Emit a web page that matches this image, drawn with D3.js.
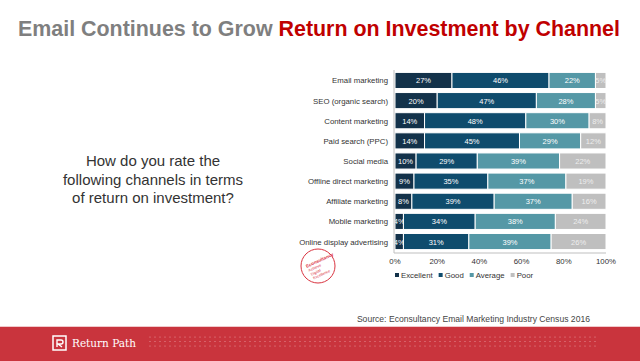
<!DOCTYPE html>
<html>
<head>
<meta charset="utf-8">
<script src="https://cdn.jsdelivr.net/npm/d3@7"></script>
<style>
  body { margin: 0; background: #fff; }
  svg { display: block; font-family: Arial, "Liberation Sans", sans-serif; }
</style>
</head>
<body>
<div id="chart"></div>
<script>
const categories = ["Email marketing", "SEO (organic search)", "Content marketing", "Paid search (PPC)",
  "Social media", "Offline direct marketing", "Affiliate marketing", "Mobile marketing", "Online display advertising"];
const seriesNames = ["Excellent", "Good", "Average", "Poor"];
const excellent = [27, 20, 14, 14, 10, 9, 8, 4, 4];
const good = [46, 47, 48, 45, 29, 35, 39, 34, 31];
const average = [22, 28, 30, 29, 39, 37, 37, 38, 39];
const poor = [5, 5, 8, 12, 22, 19, 16, 24, 26];
const xTicks = [0, 20, 40, 60, 80, 100];

const W = 640, H = 361;
const MARGIN = { TOP: 70, LEFT: 394, RIGHT: 34, BOTTOM: 109 }; // plot area
const colors = ["#13324a", "#0f4c6d", "#5598a6", "#bfbfbf"];

const svg = d3.select("#chart").append("svg")
  .attr("width", W).attr("height", H);

// title (condensed to the slide width)
const title = svg.append("text").attr("x", 18).attr("y", 36)
  .attr("font-size", 21.5).attr("font-weight", "bold")
  .attr("textLength", 602).attr("lengthAdjust", "spacingAndGlyphs");
title.append("tspan").attr("fill", "#7f7f7f").text("Email Continues to Grow ");
title.append("tspan").attr("fill", "#c00000").text("Return on Investment by Channel");

// question text
const q = ["How do you rate the", "following channels in terms", "of return on investment?"];
svg.append("g").selectAll("text").data(q).enter().append("text")
  .attr("x", 153).attr("y", (d, i) => 166 + i * 18.5)
  .attr("text-anchor", "middle").attr("font-size", 15).attr("fill", "#333")
  .text(d => d);

// chart
const data = categories.map((c, i) => ({
  name: c, Excellent: excellent[i], Good: good[i], Average: average[i], Poor: poor[i]
}));
const stack = d3.stack().keys(seriesNames)(data);

const x = d3.scaleLinear().domain([0, 100]).range([MARGIN.LEFT + 1, W - MARGIN.RIGHT]);
const y = d3.scaleBand().domain(categories).range([MARGIN.TOP, H - MARGIN.BOTTOM]).paddingInner(0.2).paddingOuter(0.12);

const g = svg.append("g");
stack.forEach((s, k) => {
  const grp = g.append("g");
  grp.selectAll("rect").data(s).enter().append("rect")
    .attr("x", d => x(d[0]))
    .attr("y", d => y(d.data.name))
    .attr("width", d => x(d[1]) - x(d[0]))
    .attr("height", y.bandwidth())
    .attr("fill", colors[k])
    .attr("stroke", "#fff").attr("stroke-width", 1);
  grp.selectAll("text").data(s).enter().append("text")
    .attr("x", d => (x(d[0]) + x(d[1])) / 2)
    .attr("y", d => y(d.data.name) + y.bandwidth() / 2 + 3)
    .attr("text-anchor", "middle").attr("font-size", 7.5)
    .attr("fill", k === 3 ? "#eeeeee" : "#ffffff")
    .text(d => (d[1] - d[0]) + "%");
});

// axes lines
svg.append("line").attr("x1", MARGIN.LEFT).attr("x2", MARGIN.LEFT)
  .attr("y1", MARGIN.TOP).attr("y2", H - MARGIN.BOTTOM + 1)
  .attr("stroke", "#bfbfbf");
svg.append("line").attr("x1", MARGIN.LEFT).attr("x2", W - MARGIN.RIGHT)
  .attr("y1", H - MARGIN.BOTTOM + 1).attr("y2", H - MARGIN.BOTTOM + 1)
  .attr("stroke", "#bfbfbf");

// category labels
svg.append("g").selectAll("text").data(categories).enter().append("text")
  .attr("x", MARGIN.LEFT - 6)
  .attr("y", d => y(d) + y.bandwidth() / 2 + 3)
  .attr("text-anchor", "end").attr("font-size", 7.8).attr("fill", "#333")
  .text(d => d);

// x tick labels
svg.append("g").selectAll("text").data(xTicks).enter().append("text")
  .attr("x", d => x(d)).attr("y", 264)
  .attr("text-anchor", "middle").attr("font-size", 7.8).attr("fill", "#333")
  .text(d => d + "%");

// legend
const leg = svg.append("g").attr("transform", "translate(395,278)");
let lx = 0;
seriesNames.forEach((n, k) => {
  leg.append("rect").attr("x", lx).attr("y", -5).attr("width", 4).attr("height", 4).attr("fill", colors[k]);
  const t = leg.append("text").attr("x", lx + 6).attr("y", 0).attr("font-size", 7.8).attr("fill", "#333").text(n);
  lx += 6 + t.node().getComputedTextLength() + 6;
});

// econsultancy stamp
const st = svg.append("g").attr("transform", "translate(318,266)");
st.append("circle").attr("r", 17).attr("fill", "none").attr("stroke", "#d9333f").attr("stroke-width", 1);
const stampText = ["Econsultancy", "Achieve", "Digital", "Excellence"];
st.selectAll("text").data(stampText).enter().append("text")
  .attr("x", (d, i) => -11 + i * 0.5).attr("y", (d, i) => -3 + i * 4.5)
  .attr("font-size", (d, i) => i === 0 ? 4.6 : 3.8).attr("font-weight", (d, i) => i === 0 ? "bold" : "normal")
  .attr("fill", "#d9333f")
  .attr("transform", "rotate(-25)")
  .text(d => d);

// source
svg.append("text").attr("x", 590).attr("y", 322).attr("text-anchor", "end")
  .attr("font-size", 8.6).attr("fill", "#444")
  .text("Source: Econsultancy Email Marketing Industry Census 2016");

// footer band
svg.append("rect").attr("x", 0).attr("y", 326).attr("width", W).attr("height", 1).attr("fill", "#f1c9cb");
svg.append("rect").attr("x", 0).attr("y", 327).attr("width", W).attr("height", H - 327).attr("fill", "#c9343d");

// logo
const logo = svg.append("g").attr("transform", "translate(53,336)");
logo.append("rect").attr("x", 0).attr("y", 0).attr("width", 13).attr("height", 14)
  .attr("fill", "none").attr("stroke", "#fff").attr("stroke-width", 1.5);
logo.append("path").attr("d", "M4,11 V4 H8 a2,2 0 0 1 0,4 H5 L9,11")
  .attr("fill", "none").attr("stroke", "#fff").attr("stroke-width", 1.4);
logo.append("text").attr("x", 19).attr("y", 10.5).attr("font-size", 10.5)
  .attr("font-family", "'DejaVu Serif', 'Liberation Serif', serif").attr("fill", "#fff")
  .text("Return Path");

// dot pattern
const dots = [];
for (let r = 0; r < 3; r++) {
  for (let c = 0; c < 90; c++) dots.push([150 + c * 5, 337 + r * 4.5]);
}
svg.append("g").selectAll("circle").data(dots).enter().append("circle")
  .attr("cx", d => d[0]).attr("cy", d => d[1]).attr("r", 0.6)
  .attr("fill", "#e79a9f");
</script>
</body>
</html>
